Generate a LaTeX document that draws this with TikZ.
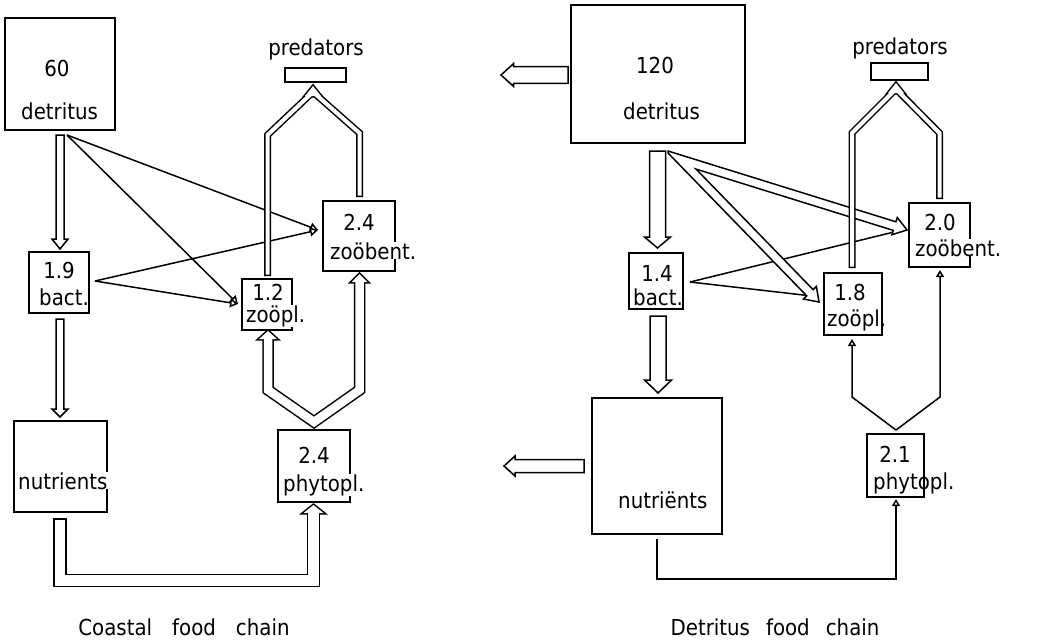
\documentclass[tikz,border=0pt]{standalone}
\usepackage{fontspec}
\setmainfont{DejaVu Sans}[FakeStretch=0.9]
\usetikzlibrary{calc,arrows.meta}
\newcommand\hollowarr[5]{%
  \coordinate (hb) at ($(#2)!#5!(#1)$);
  \draw[hollow] ($(#1)!#3!90:(#2)$) -- ($(hb)!#3!90:(#2)$) -- ($(hb)!#4!90:(#2)$) -- (#2) -- ($(hb)!#4!-90:(#2)$) -- ($(hb)!#3!-90:(#2)$) -- ($(#1)!#3!-90:(#2)$) -- cycle;}
\newcommand\headblack[3]{\draw[line width=3pt, line join=miter] ($(#1)!#3!90:(#2)$) -- (#2) -- ($(#1)!#3!-90:(#2)$) -- cycle;}
\newcommand\headwhite[3]{\fill[white] ($(#1)!#3!90:(#2)$) -- (#2) -- ($(#1)!#3!-90:(#2)$) -- cycle;}
\tikzset{
  box/.style={draw, line width=1.5pt, rectangle, inner sep=0pt},
  lbl/.style={font=\fontsize{22}{26}\selectfont, inner sep=0pt},
  lblw/.style={lbl, fill=white, inner sep=0pt},
  flow/.style={line width=1.5pt, -{Triangle[length=8pt,width=9pt,fill=white]}},
  flowsm/.style={line width=1.5pt, -{Triangle[length=7pt,width=8pt,fill=white]}},
  plain/.style={line width=1.5pt},
  hollow/.style={draw, fill=white, line width=1.5pt, line join=miter},
}
\begin{document}
\begin{tikzpicture}[x=1pt,y=-1pt]
\useasboundingbox (0,0) rectangle (1037,641);
% ================= LEFT: coastal food chain =================
\node[box, minimum width=110pt, minimum height=112pt] (detL) at (60,74) {};
\node[box, minimum width=60pt, minimum height=61pt] (bactL) at (59,282.5) {};
\node[box, minimum width=72pt, minimum height=70pt] (zbL) at (359,236) {};
\node[box, minimum width=50pt, minimum height=51pt] (zpL) at (267,304.5) {};
\node[box, minimum width=61pt, minimum height=14pt] (predL) at (315.5,75) {};
\node[box, minimum width=93pt, minimum height=91pt] (nutL) at (60.5,466.5) {};
\node[box, minimum width=72pt, minimum height=72pt] (phyL) at (314,466) {};
% thin arrows
\coordinate (dLo) at (67,135);
\coordinate (bLo) at (95,281);
\coordinate (zbLin) at (318,230);
\coordinate (zpLin) at (238,304);
\draw[flow] (dLo) -- (zbLin);
\draw[flow] (bLo) -- (zbLin);
\draw[flow] (dLo) -- (zpLin);
\draw[flow] (bLo) -- (zpLin);
% straight hollow arrows
\coordinate (a1s) at (60,135); \coordinate (a1e) at (60,249);
\hollowarr{a1s}{a1e}{4pt}{8pt}{10pt}
\coordinate (a2s) at (60,319); \coordinate (a2e) at (60,417);
\hollowarr{a2s}{a2e}{3.8pt}{8pt}{8pt}
% U band nutrients -> phytopl
\coordinate (uS) at (60,518); \coordinate (uC1) at (60,580.5);
\coordinate (uC2) at (313.5,580.5); \coordinate (uE) at (313.5,513);
\coordinate (uT) at (313.5,505);
\draw[line width=13.5pt, line join=miter] (uS) -- (uC1) -- (uC2) -- (uE);
\headblack{uE}{uT}{10pt}
\draw[white, line width=10.5pt, line join=miter, shorten <=1.5pt, shorten >=-1.5pt] (uS) -- (uC1) -- (uC2) -- (uE);
\headwhite{uE}{uT}{10pt}
% V band phytopl -> zoopl, zoobent
\coordinate (vLb) at (268,339); \coordinate (vLt) at (268,331);
\coordinate (vL1) at (268,390); \coordinate (vLa) at (314,422);
\coordinate (vL2) at (359.5,390); \coordinate (vRb) at (359.5,282);
\coordinate (vRt) at (359.5,274);
\draw[line width=11.5pt, line join=miter] (vLb) -- (vL1) -- (vLa) -- (vL2) -- (vRb);
\headblack{vLb}{vLt}{9pt}
\headblack{vRb}{vRt}{8pt}
\draw[white, line width=8.5pt, line join=miter, shorten <=-1.5pt, shorten >=-1.5pt] (vLb) -- (vL1) -- (vLa) -- (vL2) -- (vRb);
\headwhite{vLb}{vLt}{9pt}
\headwhite{vRb}{vRt}{8pt}
% predators bands
\coordinate (p1s) at (267.5,276); \coordinate (p1c) at (267.5,135);
\coordinate (p2s) at (359.5,197); \coordinate (p2c) at (359.5,133);
\coordinate (pm) at (313,92); \coordinate (pb) at (313,96); \coordinate (pt) at (313,86);
\draw[line width=7pt, line join=miter] (p1s) -- (p1c) -- (pm);
\draw[line width=7pt, line join=miter] (p2s) -- (p2c) -- (pm);
\headblack{pb}{pt}{8pt}
\draw[white, line width=4pt, line join=miter, shorten <=1.5pt] (p1s) -- (p1c) -- (pm);
\draw[white, line width=4pt, line join=miter, shorten <=1.5pt] (p2s) -- (p2c) -- (pm);
\headwhite{pb}{pt}{8pt}
% labels
\node[lbl, anchor=base] (t60) at (57,76) {60};
\node[lbl, anchor=base west] (tdetL) at (21,119) {detritus};
\node[lbl, anchor=base] (t19) at (59,278) {1.9};
\node[lbl, anchor=base west] (tbactL) at (39,305) {bact.};
\node[lbl, anchor=base] (t24a) at (359,230) {2.4};
\node[lblw, anchor=base west] (tzbL) at (330,259) {zoöbent.};
\node[lbl, anchor=base] (t12) at (268,300) {1.2};
\node[lblw, anchor=base west] (tzpL) at (246,322) {zoöpl.};
\node[lbl, anchor=base] (tpredL) at (316,55) {predators};
\node[lblw, anchor=base west] (tnutL) at (18,489) {nutrients};
\node[lbl, anchor=base] (t24b) at (314,463) {2.4};
\node[lblw, anchor=base west] (tphyL) at (283,491) {phytopl.};
\node[lbl, anchor=base] (capL) at (184,635) {Coastal\hspace{20pt}food\hspace{20pt}chain};
% ================= RIGHT: detritus food chain =================
\node[box, minimum width=174pt, minimum height=138pt] (detR) at (658,74) {};
\node[box, minimum width=54pt, minimum height=56pt] (bactR) at (656,281) {};
\node[box, minimum width=61pt, minimum height=64pt] (zbR) at (939.5,235) {};
\node[box, minimum width=58pt, minimum height=62pt] (zpR) at (853,304) {};
\node[box, minimum width=57pt, minimum height=17pt] (predR) at (899.5,71.5) {};
\node[box, minimum width=130pt, minimum height=136pt] (nutR) at (657,466) {};
\node[box, minimum width=57pt, minimum height=63pt] (phyR) at (895.5,465.5) {};
% thin lines from bacteria
\coordinate (bRo) at (690,282);
\coordinate (zbRin) at (898,231);
\coordinate (zpRin) at (812,296);
\draw[plain] (bRo) -- (zbRin);
\draw[plain] (bRo) -- (zpRin);
% fork hollow arrows detritus -> zoobent, zoopl
\draw[hollow] (668,151) -- (895.9,221.8) -- (897.3,217.5) -- (907,230) -- (891.9,234.7) -- (893.3,230.4) -- (696.1,169.1) -- (813.1,289.6) -- (816.4,286.4) -- (819,302) -- (803.5,299.0) -- (806.7,295.8) -- (668,153) -- cycle;
% straight hollow arrows
\coordinate (r1s) at (568,75); \coordinate (r1e) at (501,75);
\hollowarr{r1s}{r1e}{8.3pt}{11.5pt}{12.7pt}
\coordinate (r2s) at (657.5,151); \coordinate (r2e) at (657.5,248);
\hollowarr{r2s}{r2e}{8pt}{13pt}{11pt}
\coordinate (r3s) at (658,316); \coordinate (r3e) at (658,393);
\hollowarr{r3s}{r3e}{8pt}{13.5pt}{13pt}
\coordinate (r4s) at (584,466); \coordinate (r4e) at (504,466);
\hollowarr{r4s}{r4e}{6.5pt}{10pt}{11pt}
% thin V phytopl -> zoopl, zoobent
\coordinate (wA) at (896,430);
\coordinate (wL) at (852,397); \coordinate (wLt) at (852,339);
\coordinate (wR) at (940,397); \coordinate (wRt) at (940,270);
\draw[flowsm] (wA) -- (wL) -- (wLt);
\draw[flowsm] (wA) -- (wR) -- (wRt);
% nutrients -> phytopl
\coordinate (nRo) at (657,539); \coordinate (nR1) at (657,579);
\coordinate (nR2) at (896,579); \coordinate (phRin) at (896,499);
\draw[flowsm] (nRo) -- (nR1) -- (nR2) -- (phRin);
% predators bands
\coordinate (q1s) at (852,268); \coordinate (q1c) at (852,133);
\coordinate (q2s) at (939.5,199); \coordinate (q2c) at (939.5,133);
\coordinate (qm) at (896,89); \coordinate (qb) at (896,93); \coordinate (qt) at (896,83);
\draw[line width=7pt, line join=miter] (q1s) -- (q1c) -- (qm);
\draw[line width=7pt, line join=miter] (q2s) -- (q2c) -- (qm);
\headblack{qb}{qt}{8pt}
\draw[white, line width=4pt, line join=miter, shorten <=1.5pt] (q1s) -- (q1c) -- (qm);
\draw[white, line width=4pt, line join=miter, shorten <=1.5pt] (q2s) -- (q2c) -- (qm);
\headwhite{qb}{qt}{8pt}
% labels
\node[lbl, anchor=base] (t120) at (655,73) {120};
\node[lbl, anchor=base west] (tdetR) at (623,119) {detritus};
\node[lbl, anchor=base] (tpredR) at (900,54) {predators};
\node[lbl, anchor=base] (t20) at (940,230) {2.0};
\node[lblw, anchor=base west] (tzbR) at (915,256) {zoöbent.};
\node[lbl, anchor=base] (t14) at (657,281) {1.4};
\node[lbl, anchor=base west] (tbactR) at (633,305) {bact.};
\node[lbl, anchor=base] (t18) at (850,300) {1.8};
\node[lbl, anchor=base west] (tzpR) at (827,326) {zoöpl.};
\node[lbl, anchor=base west] (tnutR) at (618,508) {nutriënts};
\node[lbl, anchor=base] (t21) at (895,462) {2.1};
\node[lbl, anchor=base west] (tphyR) at (873,489) {phytopl.};
\node[lbl, anchor=base] (capR) at (775,635) {Detritus\hspace{16pt}food\hspace{16pt}chain};
\end{tikzpicture}
\end{document}
